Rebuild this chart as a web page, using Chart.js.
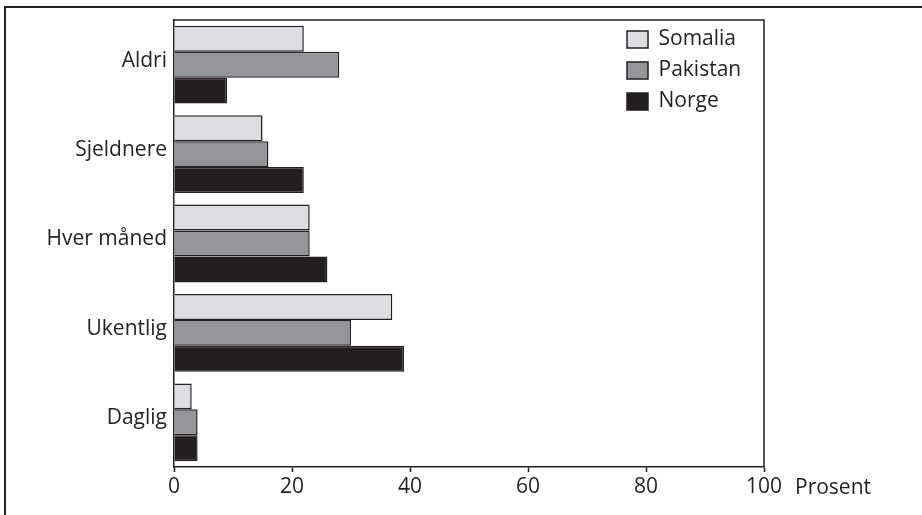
<!DOCTYPE html>
<html>
<head>
<meta charset="utf-8">
<script src="https://cdn.jsdelivr.net/npm/chart.js@4/dist/chart.umd.min.js"></script>
<style>
  html, body { margin: 0; padding: 0; background: #fff; overflow: hidden; }
  #ramme { position: absolute; left: 4px; top: 6px; width: 1000px; height: 600px;
           border-left: 2px solid #231f20; border-top: 2px solid #231f20; }
  #wykres { position: absolute; left: 0; top: 0; }
</style>
</head>
<body>
<div id="ramme"></div>
<canvas id="wykres" width="922" height="515"></canvas>
<script>
const kategorier = ["Aldri", "Sjeldnere", "Hver måned", "Ukentlig", "Daglig"];
const somalia = [22, 15, 23, 37, 3];
const pakistan = [28, 16, 23, 30, 4];
const norge = [9, 22, 26, 39, 4];
const xTicks = [0, 20, 40, 60, 80, 100];
const xTittel = "Prosent";

const mork = "#231f20";
Chart.defaults.font.family = "'Open Sans', sans-serif";
Chart.defaults.font.size = 21;
Chart.defaults.color = mork;

// ramme rundt plottet + "Prosent" ved x-aksen, legenden flyttes inn i plottet
const ekstra = {
    id: "ekstra",
    afterLayout(chart) {
        const a = chart.chartArea;
        const lg = chart.legend;
        lg.left = a.left + 443;
        lg.top = a.top - 1;
        lg.right = lg.left + lg.width;
        lg.bottom = lg.top + lg.height;
    },
    afterDraw(chart) {
        const ctx = chart.ctx;
        const a = chart.chartArea;
        const sx = chart.scales.x;
        ctx.save();
        ctx.strokeStyle = mork;
        ctx.lineWidth = 1.5;
        ctx.beginPath();
        ctx.moveTo(a.left, a.top);
        ctx.lineTo(a.right, a.top);
        ctx.lineTo(a.right, a.bottom);
        ctx.stroke();
        ctx.font = "21px 'Open Sans', sans-serif";
        ctx.fillStyle = mork;
        ctx.textBaseline = "middle";
        ctx.textAlign = "left";
        ctx.fillText(xTittel, a.right + 31, sx.top + 5 + 3 + 12.6);
        ctx.restore();
    }
};

new Chart(document.getElementById("wykres").getContext("2d"), {
    type: "bar",
    data: {
        labels: kategorier,
        datasets: [
            { label: "Somalia", data: somalia, backgroundColor: "#dcdde0" },
            { label: "Pakistan", data: pakistan, backgroundColor: "#939598" },
            { label: "Norge", data: norge, backgroundColor: mork }
        ]
    },
    options: {
        indexAxis: "y",
        responsive: false,
        animation: false,
        layout: { padding: { top: 20, right: 158, bottom: 0, left: 0 } },
        datasets: {
            bar: {
                borderColor: mork,
                borderWidth: 1.5,
                categoryPercentage: 0.87,
                barPercentage: 1
            }
        },
        scales: {
            x: {
                min: 0,
                max: 100,
                afterBuildTicks: s => { s.ticks = xTicks.map(v => ({ value: v })); },
                afterFit: s => { s.height = 48; },
                grid: { drawOnChartArea: false, drawTicks: true, tickLength: 5, tickColor: mork, tickWidth: 1.5 },
                border: { display: true, color: mork, width: 1.5 },
                ticks: { padding: 2, maxRotation: 0 }
            },
            y: {
                afterFit: s => { s.width = 174; },
                grid: { display: false, drawTicks: false },
                border: { display: true, color: mork, width: 1.5 },
                ticks: { padding: 7, labelOffset: -4 }
            }
        },
        plugins: {
            legend: {
                position: "chartArea",
                align: "start",
                labels: { boxWidth: 21, boxHeight: 17, padding: 10, color: mork }
            },
            tooltip: { enabled: false }
        }
    },
    plugins: [ekstra]
});
</script>
</body>
</html>
